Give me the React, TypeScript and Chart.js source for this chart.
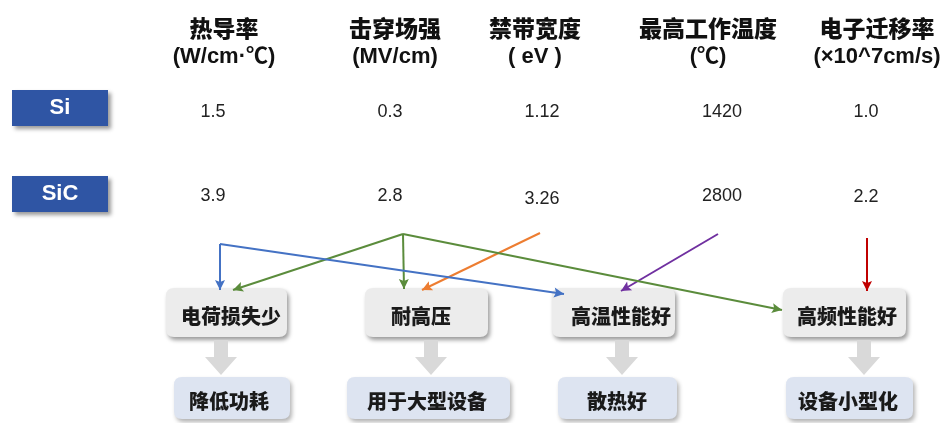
import React, { useEffect, useRef } from "react";
import { Chart, registerables } from "chart.js";
Chart.register(...registerables);

// ---------- data ----------
const properties = ["热导率", "击穿场强", "禁带宽度", "最高工作温度", "电子迁移率"];
const units = ["(W/cm·℃)", "(MV/cm)", "( eV )", "(℃)", "(×10^7cm/s)"];
const materials = ["Si", "SiC"];
const siValues = ["1.5", "0.3", "1.12", "1420", "1.0"];
const sicValues = ["3.9", "2.8", "3.26", "2800", "2.2"];
const effects = ["电荷损失少", "耐高压", "高温性能好", "高频性能好"];
const benefits = ["降低功耗", "用于大型设备", "散热好", "设备小型化"];
// which property leads to which effect
const linkFrom = [0, 0, 1, 1, 1, 2, 3, 4];
const linkTo = [0, 2, 0, 1, 3, 1, 2, 3];

// ---------- layout / style ----------
const W = 949;
const H = 423;
const headerX = [224, 395, 535, 708, 877];
const valueX = [213, 390, 542, 722, 866];
const valueDy = [0, 0, 3, 0, 1];
const rowY = [112, 196];
const matBoxY = [90, 176];
const effectBox = [
  [166, 287],
  [365, 488],
  [552, 675],
  [783, 906],
];
const effectTextX = [231, 421, 621, 847];
const benefitBox = [
  [174, 290],
  [347, 510],
  [558, 677],
  [786, 913],
];
const benefitTextX = [229, 427, 617, 848];
const grayArrowX = [221, 431, 622, 864];
const linkColors = ["#4472c4", "#5b8c3c", "#ed7d31", "#7030a0", "#c00000"];
const sourceAnchor = [
  [220, 244],
  [403, 234],
  [540, 233],
  [718, 234],
  [867, 238],
];
const linkEnd = [
  [220, 290],
  [564, 294],
  [233, 290],
  [404, 289],
  [782, 310],
  [422, 290],
  [621, 291],
  [867, 291],
];

const CJK = "'Noto Sans CJK SC', sans-serif";
const LATIN = "'Liberation Sans', Arial, 'Noto Sans CJK SC', sans-serif";

function roundRect(ctx: CanvasRenderingContext2D, x: number, y: number, w: number, h: number, r: number) {
  ctx.beginPath();
  ctx.moveTo(x + r, y);
  ctx.lineTo(x + w - r, y);
  ctx.quadraticCurveTo(x + w, y, x + w, y + r);
  ctx.lineTo(x + w, y + h - r);
  ctx.quadraticCurveTo(x + w, y + h, x + w - r, y + h);
  ctx.lineTo(x + r, y + h);
  ctx.quadraticCurveTo(x, y + h, x, y + h - r);
  ctx.lineTo(x, y + r);
  ctx.quadraticCurveTo(x, y, x + r, y);
  ctx.closePath();
}

const diagramPlugin = {
  id: "diagram",
  beforeDatasetsDraw(chart: any) {
    const ctx: CanvasRenderingContext2D = chart.ctx;
    const sx = chart.scales.x;
    const sy = chart.scales.y;
    const px = (v: number) => sx.getPixelForValue(v);
    const py = (v: number) => sy.getPixelForValue(v);
    ctx.save();
    ctx.textAlign = "center";
    ctx.textBaseline = "middle";

    // headers
    properties.forEach((p, i) => {
      ctx.fillStyle = "#111";
      ctx.font = `900 23px ${CJK}`;
      ctx.fillText(p, px(headerX[i]), py(28));
      ctx.font = `bold 22px ${LATIN}`;
      ctx.fillText(units[i], px(headerX[i]), py(57));
    });

    // material boxes
    materials.forEach((m, r) => {
      ctx.save();
      ctx.shadowColor = "rgba(0,0,0,0.4)";
      ctx.shadowBlur = 4;
      ctx.shadowOffsetX = 3;
      ctx.shadowOffsetY = 3;
      ctx.fillStyle = "#2f55a4";
      ctx.fillRect(px(12), py(matBoxY[r]), px(108) - px(12), py(matBoxY[r] + 36) - py(matBoxY[r]));
      ctx.restore();
      ctx.fillStyle = "#fff";
      ctx.font = `bold 22px ${LATIN}`;
      ctx.fillText(m, px(60), py(matBoxY[r] + 18));
    });

    // values
    ctx.fillStyle = "#222";
    ctx.font = `18px ${LATIN}`;
    siValues.forEach((v, i) => ctx.fillText(v, px(valueX[i]), py(rowY[0])));
    sicValues.forEach((v, i) => ctx.fillText(v, px(valueX[i]), py(rowY[1] + valueDy[i])));

    // effect boxes
    effects.forEach((e, i) => {
      const [x0, x1] = effectBox[i];
      ctx.save();
      ctx.shadowColor = "rgba(0,0,0,0.4)";
      ctx.shadowBlur = 4;
      ctx.shadowOffsetX = 2;
      ctx.shadowOffsetY = 3;
      ctx.fillStyle = "#ececec";
      roundRect(ctx, px(x0), py(288), px(x1) - px(x0), py(337) - py(288), 8);
      ctx.fill();
      ctx.restore();
      ctx.fillStyle = "#1a1a1a";
      ctx.font = `900 20px ${CJK}`;
      ctx.fillText(e, px(effectTextX[i]), py(316));
    });

    // gray block arrows
    grayArrowX.forEach((x) => {
      ctx.fillStyle = "#d9d9d9";
      ctx.beginPath();
      ctx.moveTo(px(x - 7), py(340));
      ctx.lineTo(px(x + 7), py(340));
      ctx.lineTo(px(x + 7), py(357));
      ctx.lineTo(px(x + 16), py(357));
      ctx.lineTo(px(x), py(375));
      ctx.lineTo(px(x - 16), py(357));
      ctx.lineTo(px(x - 7), py(357));
      ctx.closePath();
      ctx.fill();
    });

    // benefit boxes
    benefits.forEach((b, i) => {
      const [x0, x1] = benefitBox[i];
      ctx.save();
      ctx.shadowColor = "rgba(0,0,0,0.3)";
      ctx.shadowBlur = 4;
      ctx.shadowOffsetX = 2;
      ctx.shadowOffsetY = 3;
      ctx.fillStyle = "#dde4f1";
      roundRect(ctx, px(x0), py(377), px(x1) - px(x0), py(419) - py(377), 8);
      ctx.fill();
      ctx.restore();
      ctx.fillStyle = "#1a1a1a";
      ctx.font = `900 20px ${CJK}`;
      ctx.fillText(b, px(benefitTextX[i]), py(401));
    });
    ctx.restore();
  },
  afterDatasetsDraw(chart: any) {
    const ctx: CanvasRenderingContext2D = chart.ctx;
    chart.data.datasets.forEach((ds: any, i: number) => {
      const meta = chart.getDatasetMeta(i);
      const pts = meta.data;
      if (pts.length < 2) return;
      const a = pts[pts.length - 2];
      const b = pts[pts.length - 1];
      const ang = Math.atan2(b.y - a.y, b.x - a.x);
      const len = 10;
      const half = 5;
      ctx.save();
      ctx.fillStyle = ds.borderColor;
      ctx.translate(b.x, b.y);
      ctx.rotate(ang);
      ctx.beginPath();
      ctx.moveTo(0, 0);
      ctx.lineTo(-len, -half);
      ctx.lineTo(-len + 2, 0);
      ctx.lineTo(-len, half);
      ctx.closePath();
      ctx.fill();
      ctx.restore();
    });
  },
};

export default function App() {
  const ref = useRef<HTMLCanvasElement | null>(null);
  useEffect(() => {
    if (!ref.current) return;
    const datasets = linkFrom.map((p, k) => ({
      label: `${properties[p]} → ${effects[linkTo[k]]}`,
      data: [
        { x: sourceAnchor[p][0], y: sourceAnchor[p][1] },
        { x: linkEnd[k][0], y: linkEnd[k][1] },
      ],
      showLine: true,
      borderColor: linkColors[p],
      backgroundColor: linkColors[p],
      borderWidth: 2,
      pointRadius: 0,
      pointHoverRadius: 0,
      clip: false as any,
    }));
    const chart = new Chart(ref.current, {
      type: "scatter",
      data: { datasets },
      options: {
        animation: false,
        responsive: true,
        maintainAspectRatio: false,
        layout: { padding: 0 },
        plugins: { legend: { display: false }, tooltip: { enabled: false } },
        scales: {
          x: { type: "linear", min: 0, max: W, display: false },
          y: { type: "linear", min: 0, max: H, reverse: true, display: false },
        },
      },
      plugins: [diagramPlugin],
    });
    return () => chart.destroy();
  }, []);
  return (
    <div style={{ position: "fixed", left: 0, top: 0, width: W, height: H, background: "#fff" }}>
      <canvas ref={ref} />
    </div>
  );
}
